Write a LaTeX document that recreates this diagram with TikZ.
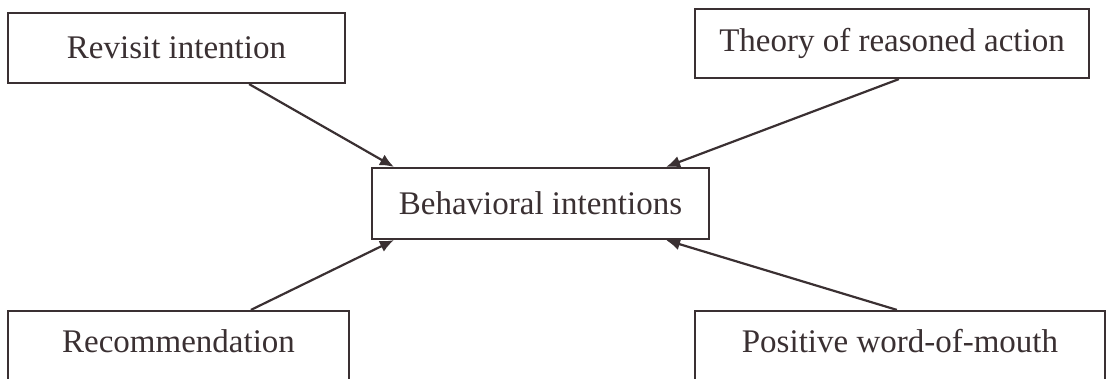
\documentclass[tikz,border=0pt]{standalone}
\usepackage{fontspec}
\setmainfont{Liberation Serif}
\usetikzlibrary{positioning, arrows.meta}
\definecolor{inkdark}{HTML}{3A3032}

\begin{document}
\begin{tikzpicture}[x=1pt, y=-1pt,
        box/.style={rectangle, draw=inkdark, line width=2.2pt, align=center, text=inkdark, font=\fontsize{33}{38}\selectfont, inner sep=0pt},
        openbox/.style={box, minimum height=80pt, text height=22pt, text depth=20pt},
        arrow/.style={line width=2.2pt, draw=inkdark, -{Latex[length=14pt, width=12pt]}}]

        \clip (0,0) rectangle (1110,378);

        % Central node
        \node (behav) [box, minimum width=337pt, minimum height=71pt] at (540.5,203.5) {Behavioral intentions};

        % Corner nodes
        \node (revisit) [box, minimum width=337pt, minimum height=70pt] at (176.5,48) {Revisit intention};
        \node (theory) [box, minimum width=394pt, minimum height=69pt] at (892,43.5) {Theory of reasoned action};
        \node (recom) [openbox, minimum width=341pt] at (178.5,351) {Recommendation};
        \node (posit) [openbox, minimum width=410pt] at (900,351) {Positive word-of-mouth};

        % Arrows into the central node
        \draw [arrow] ([xshift=-97pt]revisit.south east) -- ([xshift=23pt]behav.north west);
        \draw [arrow] ([xshift=205pt]theory.south west) -- ([xshift=-44pt]behav.north east);
        \draw [arrow] ([xshift=244pt]recom.north west) -- ([xshift=23pt]behav.south west);
        \draw [arrow] ([xshift=203pt]posit.north west) -- ([xshift=-44pt]behav.south east);

    \end{tikzpicture}
\end{document}
